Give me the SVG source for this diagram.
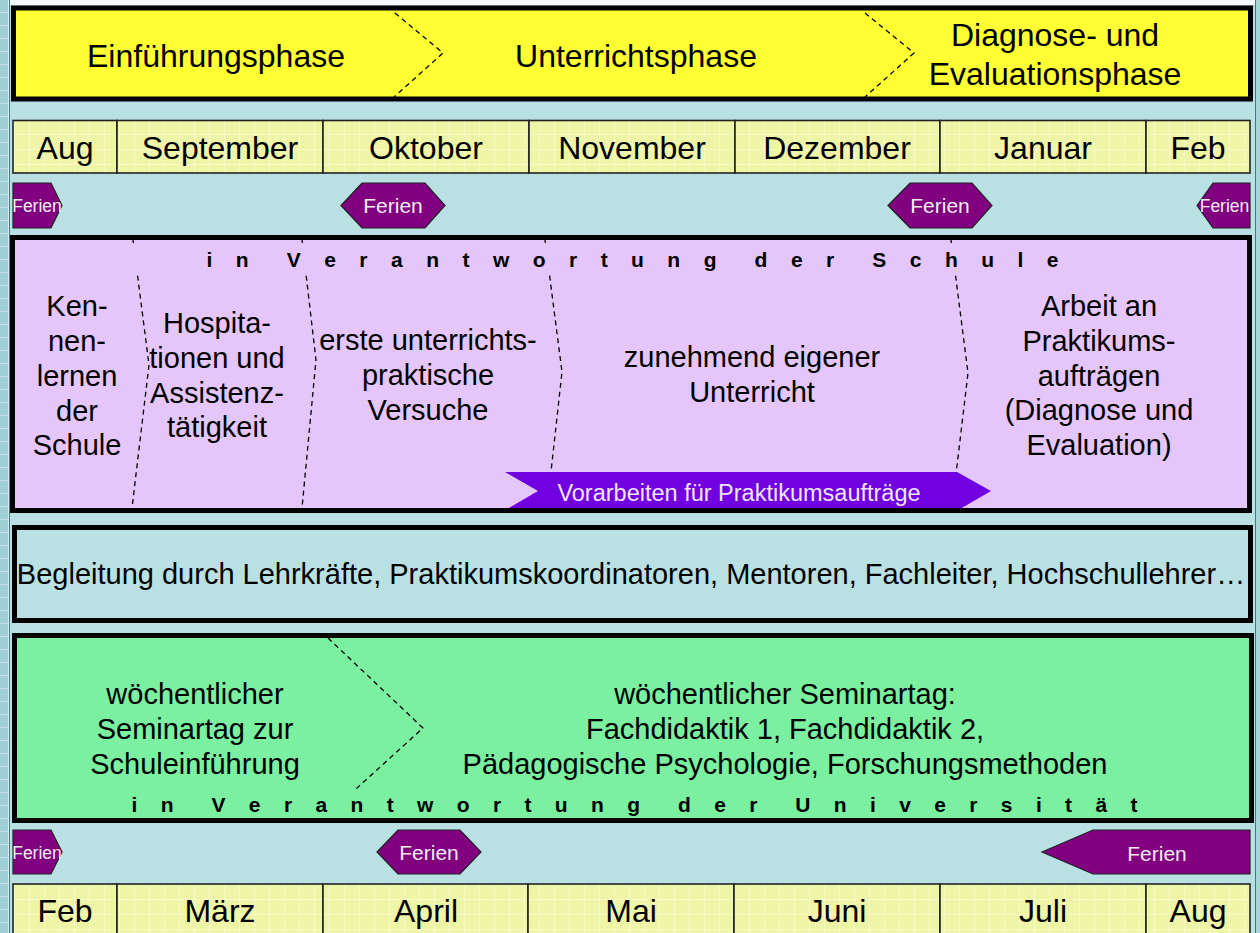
<svg xmlns="http://www.w3.org/2000/svg" width="1260" height="933" viewBox="0 0 1260 933">
<defs>
<pattern id="gridY" width="15" height="15" patternUnits="userSpaceOnUse"><rect width="15" height="15" fill="#EEF5A6"/><path d="M14.5 0V15M0 14.5H15" stroke="#F8F9C4" stroke-width="1"/></pattern>
<pattern id="gridB" width="13" height="13" patternUnits="userSpaceOnUse"><rect width="13" height="13" fill="#9FCFD4"/><path d="M0 12.5H13M12.5 0V13" stroke="#C0E0E3" stroke-width="1"/></pattern>
<style>
text{font-family:"Liberation Sans",Arial,sans-serif;fill:#000;}
.ph{font-size:32px;text-anchor:middle;}
.mo{font-size:32px;text-anchor:middle;}
.cell{fill:url(#gridY);stroke:#222;stroke-width:1.6;}
.band{stroke:#000;stroke-width:5;}
.fer{fill:#800080;stroke:#222;stroke-width:1.2;}
.fert{fill:#F4ECF4;text-anchor:middle;}
.body{font-size:29px;text-anchor:middle;}
.resp{font-size:21px;font-weight:bold;white-space:pre;}
.dash{fill:none;stroke:#000;stroke-width:1.3;stroke-dasharray:5 4;}
</style>
</defs>

<g id="background">
<rect x="0" y="0" width="1260" height="933" fill="#B9E0E3"/>
<rect x="0" y="0" width="8" height="933" fill="url(#gridB)"/>
<line x1="8.5" y1="0" x2="8.5" y2="933" stroke="#D8EEF0"/>
<line x1="9.5" y1="0" x2="9.5" y2="933" stroke="#3E7C82"/>
<line x1="1255.5" y1="0" x2="1255.5" y2="933" stroke="#3E7C82"/>
<rect x="1256" y="0" width="4" height="933" fill="#A8D4D8"/>
<rect x="10" y="0" width="1245" height="5" fill="#F4FAFA"/>
</g>

<g id="phases">
<rect class="band" x="13.5" y="8" width="1237" height="91" fill="#FFFF33"/>
<text class="ph" x="216" y="67">Einführungsphase</text>
<text class="ph" x="636" y="67">Unterrichtsphase</text>
<text class="ph" x="1055" y="46">Diagnose- und</text>
<text class="ph" x="1055" y="85">Evaluationsphase</text>
</g>

<g id="months-top">
<rect class="cell" x="13" y="120.5" width="104" height="52.5"/>
<rect class="cell" x="117" y="120.5" width="206" height="52.5"/>
<rect class="cell" x="323" y="120.5" width="206" height="52.5"/>
<rect class="cell" x="529" y="120.5" width="206" height="52.5"/>
<rect class="cell" x="735" y="120.5" width="205" height="52.5"/>
<rect class="cell" x="940" y="120.5" width="206" height="52.5"/>
<rect class="cell" x="1146" y="120.5" width="104" height="52.5"/>
<text class="mo" x="65" y="159">Aug</text>
<text class="mo" x="220" y="159">September</text>
<text class="mo" x="426" y="159">Oktober</text>
<text class="mo" x="632" y="159">November</text>
<text class="mo" x="837" y="159">Dezember</text>
<text class="mo" x="1043" y="159">Januar</text>
<text class="mo" x="1198" y="159">Feb</text>
</g>

<g id="ferien-top">
<polygon class="fer" points="13,183 51,183 62,205.5 51,228 13,228"/>
<text class="fert" x="37" y="212" font-size="17.5">Ferien</text>
<polygon class="fer" points="341,205.5 362,183 425,183 445,205.5 425,228 362,228"/>
<text class="fert" x="393" y="213" font-size="21">Ferien</text>
<polygon class="fer" points="888,205.5 910,183 972,183 992,205.5 972,228 910,228"/>
<text class="fert" x="940" y="213" font-size="21">Ferien</text>
<polygon class="fer" points="1197,205.5 1213,183 1250,183 1250,228 1213,228"/>
<text class="fert" x="1224.5" y="212" font-size="17.5">Ferien</text>
</g>

<g id="schule">
<rect x="12.5" y="237.5" width="1237" height="273" fill="#E5C6FB"/>
<g id="separators-schule">
<path class="dash" d="M133 240 L149 365 L132 508"/>
<path class="dash" d="M302 240 L316 360 L302 508"/>
<path class="dash" d="M545 240 L562 372 L547 508"/>
<path class="dash" d="M951 240 L968 373 L952 508"/>
</g>
<rect x="125" y="243" width="1010" height="29" fill="#E5C6FB"/>
<text class="resp" x="206.5" y="267" textLength="852" lengthAdjust="spacing">i n  V e r a n t w o r t u n g  d e r  S c h u l e</text>
<text class="body"><tspan x="77" y="316">Ken-</tspan><tspan x="77" y="351">nen-</tspan><tspan x="77" y="386">lernen</tspan><tspan x="77" y="421">der</tspan><tspan x="77" y="455">Schule</tspan></text>
<text class="body"><tspan x="217" y="333">Hospita-</tspan><tspan x="217" y="368">tionen und</tspan><tspan x="217" y="403">Assistenz-</tspan><tspan x="217" y="437">tätigkeit</tspan></text>
<text class="body"><tspan x="428" y="350">erste unterrichts-</tspan><tspan x="428" y="385">praktische</tspan><tspan x="428" y="420">Versuche</tspan></text>
<text class="body"><tspan x="752" y="367">zunehmend eigener</tspan><tspan x="752" y="402">Unterricht</tspan></text>
<text class="body"><tspan x="1099" y="316">Arbeit an</tspan><tspan x="1099" y="351">Praktikums-</tspan><tspan x="1099" y="386">aufträgen</tspan><tspan x="1099" y="420">(Diagnose und</tspan><tspan x="1099" y="455">Evaluation)</tspan></text>
<g id="vorarbeiten">
<polygon points="505,472 957,472 991,491 960,509 507,509 538,491" fill="#7000E0"/>
<text x="739" y="501" font-size="23.5" text-anchor="middle" style="fill:#F0E6FF">Vorarbeiten für Praktikumsaufträge</text>
</g>
<rect class="band" x="12.5" y="237.5" width="1237" height="273" fill="none"/>
</g>

<g id="begleitung">
<rect class="band" x="14.5" y="527.5" width="1236" height="93" fill="#B9E0E3"/>
<text x="631" y="584" font-size="29" text-anchor="middle">Begleitung durch Lehrkräfte, Praktikumskoordinatoren, Mentoren, Fachleiter, Hochschullehrer…</text>
</g>

<g id="universitaet">
<rect x="14.5" y="635.5" width="1237" height="185" fill="#7AF0A0"/>
<path class="dash" d="M328 638 L423 728 L324 818"/>
<rect x="125" y="789" width="1020" height="29" fill="#7AF0A0"/>
<text class="body"><tspan x="195" y="704">wöchentlicher</tspan><tspan x="195" y="739">Seminartag zur</tspan><tspan x="195" y="774">Schuleinführung</tspan></text>
<text class="body"><tspan x="785" y="704">wöchentlicher Seminartag:</tspan><tspan x="785" y="739">Fachdidaktik 1, Fachdidaktik 2,</tspan><tspan x="785" y="774">Pädagogische Psychologie, Forschungsmethoden</tspan></text>
<text class="resp" x="131.5" y="812" textLength="1006" lengthAdjust="spacing">i n  V e r a n t w o r t u n g  d e r  U n i v e r s i t ä t</text>
<rect class="band" x="14.5" y="635.5" width="1237" height="185" fill="none"/>
</g>

<g id="ferien-bottom">
<polygon class="fer" points="13,830 51,830 62,852 51,874 13,874"/>
<text class="fert" x="37" y="858.5" font-size="17.5">Ferien</text>
<polygon class="fer" points="377,852 398,830 460,830 481,852 460,874 398,874"/>
<text class="fert" x="429" y="860" font-size="21">Ferien</text>
<polygon class="fer" points="1042,852 1093,830 1250,830 1250,874 1093,874"/>
<text class="fert" x="1157" y="860.5" font-size="21">Ferien</text>
</g>

<g id="months-bottom">
<rect class="cell" x="13" y="884" width="104" height="55"/>
<rect class="cell" x="117" y="884" width="206" height="55"/>
<rect class="cell" x="323" y="884" width="205" height="55"/>
<rect class="cell" x="528" y="884" width="206" height="55"/>
<rect class="cell" x="734" y="884" width="206" height="55"/>
<rect class="cell" x="940" y="884" width="206" height="55"/>
<rect class="cell" x="1146" y="884" width="104" height="55"/>
<text class="mo" x="65" y="922">Feb</text>
<text class="mo" x="220" y="922">März</text>
<text class="mo" x="426" y="922">April</text>
<text class="mo" x="631" y="922">Mai</text>
<text class="mo" x="837" y="922">Juni</text>
<text class="mo" x="1043" y="922">Juli</text>
<text class="mo" x="1198" y="922">Aug</text>
</g>

<g id="connectors">
<path class="dash" d="M395 13 L443 53 L394 97"/>
<path class="dash" d="M865 13 L914 53 L865 97"/>
</g>
</svg>
